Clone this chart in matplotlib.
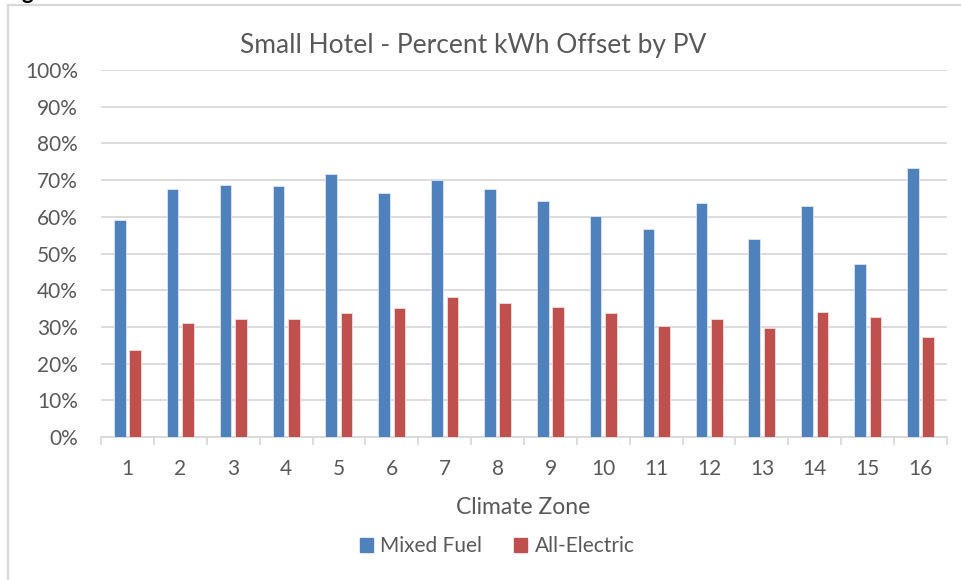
import numpy as np
import matplotlib
matplotlib.use("Agg")
import matplotlib.pyplot as plt
from matplotlib.lines import Line2D
from matplotlib.patches import Patch

# values (percent of kWh offset)
zones = [str(i) for i in range(1, 17)]
mixed_fuel = [59.1, 67.5, 68.7, 68.5, 71.7, 66.4, 70.0, 67.7,
              64.2, 60.3, 56.7, 63.7, 54.0, 62.9, 47.1, 73.2]
all_electric = [23.7, 31.1, 32.1, 32.2, 33.7, 35.1, 38.1, 36.6,
                35.4, 33.9, 30.3, 32.2, 29.6, 34.1, 32.8, 27.2]
y_ticks = list(range(0, 101, 10))

BLUE = "#4F81BD"
RED = "#C0504D"
TEXT = "#595959"
GRID = "#D9D9D9"

plt.rcParams["font.family"] = ["Lato", "DejaVu Sans"]

fig = plt.figure(figsize=(9.62, 5.8), dpi=100)
ax = fig.add_axes([101 / 962, 1 - 437 / 580, 846 / 962, 367 / 580])

x = np.arange(len(zones))
w = 0.22
off = 0.145
ax.bar(x - off, mixed_fuel, width=w, color=BLUE, edgecolor="#DCE6F2", linewidth=0.6,
       label="Mixed Fuel", zorder=3)
ax.bar(x + off, all_electric, width=w, color=RED, edgecolor="#F2DCDB", linewidth=0.6,
       label="All-Electric", zorder=3)

ax.set_xlim(-0.5, len(zones) - 0.5)
ax.set_ylim(0, 100)
ax.set_yticks(y_ticks)
ax.set_yticklabels([f"{t}%" for t in y_ticks])
ax.yaxis.grid(True, color=GRID, linewidth=1.3, zorder=0)
ax.tick_params(axis="y", length=0, pad=16.5, labelsize=15, labelcolor=TEXT)

ax.set_xticks(x)
ax.set_xticklabels(zones)
ax.set_xticks(np.arange(-0.5, len(zones)), minor=True)
ax.tick_params(axis="x", which="major", length=0, pad=16, labelsize=15, labelcolor=TEXT)
ax.tick_params(axis="x", which="minor", length=6, width=1.3, color=GRID)

for s in ["top", "right", "left"]:
    ax.spines[s].set_visible(False)
ax.spines["bottom"].set_color(GRID)
ax.spines["bottom"].set_linewidth(1.3)

fig.text(473 / 962, 1 - 46 / 580, "Small Hotel - Percent kWh Offset by PV",
         ha="center", va="center", fontsize=19, color=TEXT)
fig.text(523 / 962, 1 - 508 / 580, "Climate Zone", ha="center", va="center",
         fontsize=16.5, color=TEXT)

handles = [Patch(color=BLUE, label="Mixed Fuel"), Patch(color=RED, label="All-Electric")]
leg = fig.legend(handles=handles, loc="center", bbox_to_anchor=(497 / 962, 1 - 546 / 580),
                 ncol=2, frameon=False, fontsize=15, handlelength=0.65, handleheight=0.65,
                 handletextpad=0.35, columnspacing=1.5)
for t in leg.get_texts():
    t.set_color(TEXT)

# chart area border (left and top edges visible in the crop)
fig.add_artist(Line2D([8 / 962, 8 / 962], [0, 1 - 5 / 580], transform=fig.transFigure,
                      color=GRID, linewidth=1.6))
fig.add_artist(Line2D([8 / 962, 1], [1 - 5 / 580, 1 - 5 / 580], transform=fig.transFigure,
                      color=GRID, linewidth=1.6))
# cut-off heading fragment above the chart
fig.text(22 / 962, 1 + 1 / 580, "g", ha="left", va="baseline", fontsize=16,
         fontweight="bold", color="black")

fig.savefig("out.png", dpi=100)
